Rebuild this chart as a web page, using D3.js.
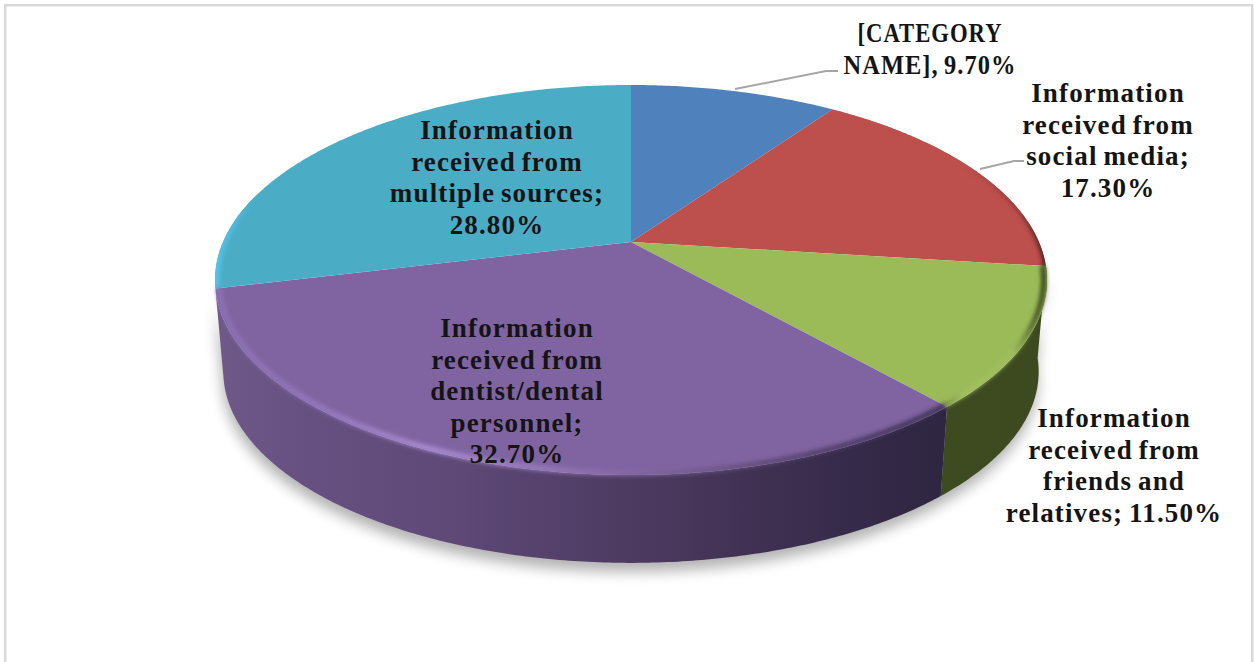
<!DOCTYPE html>
<html><head><meta charset="utf-8">
<script src="https://cdn.jsdelivr.net/npm/d3@7"></script>
<style>html,body{margin:0;padding:0;background:#fff;overflow:hidden}svg{display:block}</style>
</head><body><svg id="c" width="1254" height="662"></svg>
<script>
const categories=["[CATEGORY NAME]","Information received from social media","Information received from friends and relatives","Information received from dentist/dental personnel","Information received from multiple sources"];
const values=[9.7,17.3,11.5,32.7,28.8];
const colors=["#4f81bd","#bd4f4c","#9bbb59","#8064a2","#4bacc6"];
const labelLines=[
 ["[CATEGORY","NAME], 9.70%"],
 ["Information","received from","social media;","17.30%"],
 ["Information","received from","friends and","relatives; 11.50%"],
 ["Information","received from","dentist/dental","personnel;","32.70%"],
 ["Information","received from","multiple sources;","28.80%"]];
const labelX=[930,1108,1114,517,497];
const labelY=[42,102,427,337,139];

const svg=d3.select("#c");
const defs=svg.append("defs");
const cx=631,cy=242,R=408,K=187.6,P=-0.195,DROP=92.5,SHRINK=0.98;
function proj(a,s=1,d=0){const u=Math.sin(a),v=-Math.cos(a),w=1+P*v;return [cx+s*R*u/w,cy+d+s*K*v/w];}
function arcPts(a0,a1,s=1,d=0){const n=Math.max(2,Math.ceil((a1-a0)/0.01));return d3.range(n+1).map(i=>proj(a0+(a1-a0)*i/n,s,d));}
const line=d3.line();
const arcs=d3.pie().sort(null).value(d=>d)(values);

function grad(id,stops,x1=215,x2=1046){const g=defs.append("linearGradient").attr("id",id).attr("gradientUnits","userSpaceOnUse").attr("x1",x1).attr("x2",x2).attr("y1",0).attr("y2",0);
 stops.forEach(s=>g.append("stop").attr("offset",s[0]).attr("stop-color",s[1]).attr("stop-opacity",s[2]===undefined?1:s[2]));}
grad("wallP",[[0,"#6e5989"],[0.1,"#675182"],[0.3,"#5d4876"],[0.55,"#49375c"],[0.75,"#372b4b"],[0.88,"#2e2640"],[1,"#2e2640"]]);
grad("wallG",[[0,"#414e22"],[1,"#3d4a20"]]);
grad("bevelP",[[0,"#8d72b4"],[0.12,"#9579bd"],[0.26,"#ad90d8"],[0.42,"#9277b4"],[0.56,"#75608f"],[0.72,"#4f3e66"],[0.88,"#3a2d50"]]);
grad("bevelG",[[0,"#5f7238"],[0.875,"#6f8440"],[0.9,"#a4c162"],[0.96,"#a0bd5e"],[0.985,"#4d5b2c"],[1,"#2e3818"]]);
grad("bevelR",[[0,"#bd4f4c"],[0.9,"#bd4f4c"],[0.97,"#8a3a38"],[1,"#3e1c1c"]]);
grad("bevelT",[[0,"#55c4e6"],[0.05,"#4bacc6"],[1,"#4bacc6"]]);
const bl=(id,sd)=>defs.append("filter").attr("id",id).attr("x","-10%").attr("y","-20%").attr("width","120%").attr("height","140%").append("feGaussianBlur").attr("stdDeviation",sd);
bl("soft",2);bl("shadow",7);
const full=arcPts(0,2*Math.PI);
defs.append("clipPath").attr("id","topClip").append("path").attr("d",line(full)+"Z");

svg.append("rect").attr("x",5.2).attr("y",5.2).attr("width",1247).attr("height",720).attr("fill","#fff").attr("stroke","#d9d9d9").attr("stroke-width",2.5);

// shadow
const wallStart=arcs[1].endAngle,wallEnd=arcs[3].endAngle;
const hull=arcPts(wallStart,wallEnd,SHRINK,DROP).concat(arcPts(wallStart,wallEnd).reverse());
svg.append("path").attr("d",line(hull)+"Z").attr("transform","translate(-1,9)").attr("fill","#000").attr("opacity",.3).attr("filter","url(#shadow)");

// side walls
[[2,"wallG"],[3,"wallP"]].forEach(([i,g])=>{
 const a=arcs[i];
 const pts=arcPts(a.startAngle,a.endAngle).concat(arcPts(a.startAngle,a.endAngle,SHRINK,DROP).reverse());
 svg.append("path").attr("d",line(pts)+"Z").attr("fill",`url(#${g})`);
});

// top faces
svg.selectAll("path.face").data(arcs).join("path").attr("class","face")
 .attr("d",d=>line([[cx,cy],...arcPts(d.startAngle,d.endAngle)])+"Z")
 .attr("fill",(d,i)=>colors[i]);

// rim bevel: front slices blur over the wall, side slices stay inside the face
const bevelClip=svg.append("g").attr("clip-path","url(#topClip)");
[[1,"bevelR",5],[4,"bevelT",9]].forEach(([i,g,w])=>{
 const a=arcs[i];
 bevelClip.append("path").attr("d",line(arcPts(a.startAngle,i==4?a.startAngle+0.5:a.endAngle))).attr("fill","none")
  .attr("stroke",`url(#${g})`).attr("stroke-width",w).attr("filter","url(#soft)");
});
[[2,"bevelG"],[3,"bevelP"]].forEach(([i,g])=>{
 const a=arcs[i];
 svg.append("path").attr("d",line(arcPts(a.startAngle,a.endAngle,0.992,0))).attr("fill","none")
  .attr("stroke",`url(#${g})`).attr("stroke-width",5).attr("filter","url(#soft)");
});

// leader lines
const leaders=[[[735,89],[826,71],[838,71]],[[980,169],[1014,161],[1024,161]]];
svg.selectAll("path.leader").data(leaders).join("path").attr("class","leader").attr("d",line)
 .attr("fill","none").attr("stroke","#a6a6a6").attr("stroke-width",2);

// labels
const LH=31.5;
const firstLabelWidths=[145,173];
const t=svg.selectAll("text.lab").data(labelLines).join("text").attr("class","lab")
 .attr("font-family","'Liberation Serif',serif").attr("font-weight","bold").attr("font-size",27)
 .attr("letter-spacing",1.15).attr("word-spacing",-2)
 .attr("fill","#141414").attr("text-anchor","middle");
t.each(function(d,i){
 const sp=d3.select(this).selectAll("tspan").data(d).join("tspan").attr("x",labelX[i]).attr("y",(l,j)=>labelY[i]+j*LH).text(l=>l);
 if(i===0) sp.attr("textLength",(l,j)=>firstLabelWidths[j]).attr("lengthAdjust","spacingAndGlyphs");
});
</script></body></html>
